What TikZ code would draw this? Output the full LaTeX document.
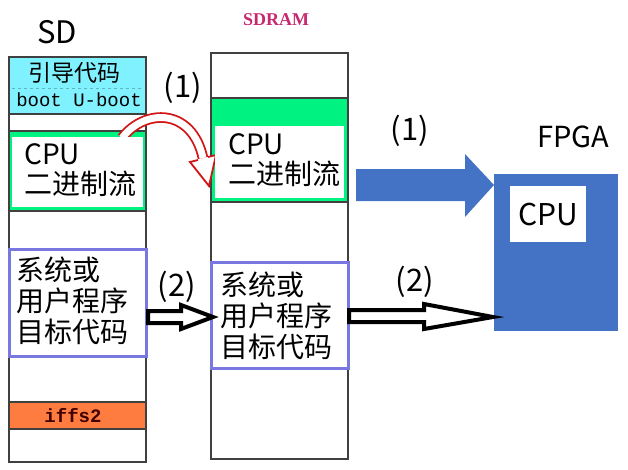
\documentclass[tikz,border=0pt]{standalone}
\usepackage{fontspec}
\setmainfont{Noto Sans CJK SC}
\newfontfamily\bootfont{Liberation Mono}
\newfontfamily\ramfont{Liberation Serif}
\definecolor{cellcyan}{RGB}{128,242,255}
\definecolor{cellgreen}{RGB}{0,242,128}
\definecolor{cellblue}{RGB}{120,120,224}
\definecolor{cellorange}{RGB}{255,124,64}
\definecolor{cellline}{RGB}{64,64,64}
\definecolor{fpgablue}{RGB}{68,114,196}
\definecolor{ramlabel}{RGB}{200,40,110}
\definecolor{curlred}{RGB}{210,20,20}

\begin{document}
\begin{tikzpicture}[x=1pt,y=-1pt,
    cell/.style={draw=cellline,line width=1.5pt},
    codebox/.style={draw=cellblue,line width=3pt,fill=white},
    inner/.style={fill=white,inner sep=0pt,anchor=north west},
    big/.style={font=\fontsize{28}{30}\selectfont,align=left,inner sep=0pt,anchor=west},
    tag/.style={font=\fontsize{31}{33}\selectfont,inner sep=0pt},
    hollow/.style={draw=black,fill=white,line width=4pt,line join=miter}]
    \useasboundingbox (0,0) rectangle (628,469);

    % SD card
    \node[font=\fontsize{31}{33}\selectfont,inner sep=0pt] (sd) at (57,32) {SD};
    \draw[cell] (9,57) rectangle (146,462);
    \draw[cell,fill=cellcyan] (9,57) rectangle (146,114);
    \draw[cellcyan!75!black,dashed] (12,88) -- (143,88);
    \node[font=\fontsize{23}{24}\selectfont,inner sep=0pt] (boot) at (74,73) {引导代码};
    \node[font=\bootfont\fontsize{19}{20}\selectfont,inner sep=0pt] (uboot) at (79,100) {boot U-boot};
    \draw[cell] (9,114) -- (146,114);
    \draw[cell,fill=cellgreen] (9,131) rectangle (146,211);
    \draw[codebox] (9,249) rectangle (146,356);
    \draw[cell,fill=cellorange] (9,402) rectangle (146,429);
    \node[font=\bootfont\bfseries\fontsize{19}{20}\selectfont,text=black!75!red,inner sep=0pt] (iffs) at (73,416) {iffs2};

    % SDRAM
    \node[font=\ramfont\bfseries\fontsize{18}{20}\selectfont,text=ramlabel] (sdram) at (276,20) {SDRAM};
    \draw[cell] (211,53) rectangle (348,459);
    \draw[cell,fill=cellgreen] (211,98) rectangle (348,202);
    \draw[codebox] (211,262) rectangle (348,368);

    % copy (1): SD -> SDRAM
    \draw[curlred,line width=1.8pt,double=white,double distance=7pt] (122,138) .. controls (145,108) and (192,108) .. (203,158);
    \fill[white] (190,162) -- (209,186) -- (216,155) -- cycle;
    \draw[curlred,line width=1.8pt,line join=miter] (198,160) -- (190,162) -- (209,186) -- (216,155) -- (208,157);

    \node[inner,minimum width=131,minimum height=70] (sdcpubox) at (12,137) {};
    \node[inner,minimum width=129,minimum height=72] (ramcpubox) at (215,126) {};
    \node[big] (sdcpu) at (24,170) {CPU\\二进制流};
    \node[big] (ramcpu) at (228,160) {CPU\\二进制流};
    \node[big,font=\fontsize{28}{31}\selectfont] (sdcode) at (16,301) {系统或\\用户程序\\目标代码};
    \node[big,font=\fontsize{28}{31}\selectfont] (ramcode) at (220,316) {系统或\\用户程序\\目标代码};

    % FPGA
    \node[font=\fontsize{29}{32}\selectfont,inner sep=0pt] (fpga) at (573,137) {FPGA};
    \node[fill=fpgablue,inner sep=0pt,anchor=north west,minimum width=124,minimum height=157] (fpgabox) at (494,174) {};
    \node[fill=white,inner sep=0pt,anchor=north west,minimum width=76,minimum height=56] (fpgacpubox) at (510,186) {};
    \node[font=\fontsize{30}{32}\selectfont,inner sep=0pt] (fpgacpu) at (fpgacpubox.center) {CPU};

    % arrows
    \fill[fpgablue] (356,169) -- (465,169) -- (465,154) -- (494,185) -- (465,217) -- (465,201) -- (356,201) -- cycle;
    \draw[hollow] (148,311) -- (181,311) -- (181,305) -- (213,317) -- (181,329) -- (181,323) -- (148,323) -- cycle;
    \draw[hollow] (349,310) -- (424,310) -- (424,304) -- (493,317) -- (424,329) -- (424,322) -- (349,322) -- cycle;

    \node[tag] (load1) at (183,88) {(1)};
    \node[tag] (run1) at (410,131) {(1)};
    \node[tag] (load2) at (177,287) {(2)};
    \node[tag] (run2) at (415,282) {(2)};
\end{tikzpicture}
\end{document}
